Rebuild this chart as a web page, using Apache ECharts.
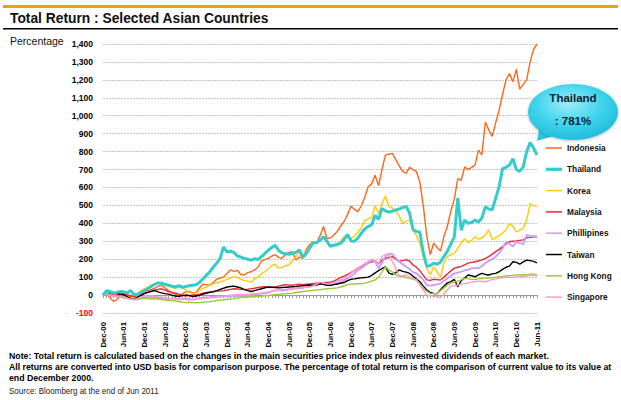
<!DOCTYPE html>
<html><head><meta charset="utf-8">
<script src="https://cdn.jsdelivr.net/npm/echarts@6/dist/echarts.min.js"></script>
<style>html,body{margin:0;padding:0;background:#fff}#c{width:621px;height:400px}</style>
</head><body><div id="c"></div>
<script>
const months = ["Dec-00",
"Jan-01","Feb-01","Mar-01","Apr-01","May-01","Jun-01","Jul-01","Aug-01","Sep-01","Oct-01","Nov-01","Dec-01",
"Jan-02","Feb-02","Mar-02","Apr-02","May-02","Jun-02","Jul-02","Aug-02","Sep-02","Oct-02","Nov-02","Dec-02",
"Jan-03","Feb-03","Mar-03","Apr-03","May-03","Jun-03","Jul-03","Aug-03","Sep-03","Oct-03","Nov-03","Dec-03",
"Jan-04","Feb-04","Mar-04","Apr-04","May-04","Jun-04","Jul-04","Aug-04","Sep-04","Oct-04","Nov-04","Dec-04",
"Jan-05","Feb-05","Mar-05","Apr-05","May-05","Jun-05","Jul-05","Aug-05","Sep-05","Oct-05","Nov-05","Dec-05",
"Jan-06","Feb-06","Mar-06","Apr-06","May-06","Jun-06","Jul-06","Aug-06","Sep-06","Oct-06","Nov-06","Dec-06",
"Jan-07","Feb-07","Mar-07","Apr-07","May-07","Jun-07","Jul-07","Aug-07","Sep-07","Oct-07","Nov-07","Dec-07",
"Jan-08","Feb-08","Mar-08","Apr-08","May-08","Jun-08","Jul-08","Aug-08","Sep-08","Oct-08","Nov-08","Dec-08",
"Jan-09","Feb-09","Mar-09","Apr-09","May-09","Jun-09","Jul-09","Aug-09","Sep-09","Oct-09","Nov-09","Dec-09",
"Jan-10","Feb-10","Mar-10","Apr-10","May-10","Jun-10","Jul-10","Aug-10","Sep-10","Oct-10","Nov-10","Dec-10",
"Jan-11","Feb-11","Mar-11","Apr-11","May-11","Jun-11"];

const indonesia = [0,10,-15,-35,-25,-10,-15,-8,-2,0,5,12,
20,25,30,38,50,55,40,25,12,5,-3,5,
18,20,12,15,40,60,58,55,70,88,95,100,
120,140,132,138,115,112,125,130,140,155,190,198,
205,218,225,210,205,228,238,242,195,212,205,255,
282,298,292,330,382,315,318,335,355,385,410,450,
495,478,465,498,545,605,620,668,610,700,782,785,
790,755,720,690,678,712,700,688,630,495,330,225,
290,265,245,330,385,470,535,650,640,715,700,712,
725,808,782,965,920,885,960,1030,1120,1200,1235,1190,
1258,1148,1175,1200,1300,1370,1400];

const thailand = [0,25,20,12,15,20,18,12,25,5,2,15,
25,35,48,60,68,66,60,55,50,45,52,44,
48,52,55,57,70,90,110,130,155,178,205,268,
240,245,238,218,212,205,200,195,202,198,215,232,
250,265,278,248,235,230,228,232,238,252,212,230,
262,290,293,305,325,300,272,278,282,288,310,338,
302,300,318,345,368,382,392,445,422,482,470,462,
468,475,480,488,495,458,365,355,350,235,160,165,
178,172,185,215,245,285,325,540,362,418,400,405,
418,408,430,492,480,475,540,605,705,712,725,760,
700,690,715,800,850,820,781];

const korea = [0,10,15,12,5,8,3,-5,-8,-3,10,25,
35,45,55,62,68,65,55,50,42,38,48,40,
30,15,8,12,25,38,45,55,62,68,74,80,
88,95,102,98,88,82,78,72,92,100,118,130,
145,165,172,150,155,165,168,190,212,240,205,245,
272,298,290,305,322,300,278,280,285,300,325,318,
315,330,350,375,415,425,432,498,455,510,552,492,
485,470,440,400,412,418,365,330,288,212,150,112,
158,130,102,180,215,225,232,262,290,315,292,305,
325,312,318,335,365,308,320,330,345,365,398,385,
352,362,372,418,510,498,498];

const malaysia = [0,5,8,2,0,5,8,2,-5,-8,-2,5,
12,15,20,28,32,35,28,20,15,10,5,0,
-5,-3,0,2,5,10,15,17,20,22,23,25,
28,32,35,34,32,32,33,35,38,42,45,46,
44,42,45,50,55,58,56,55,58,60,58,60,
62,64,66,68,66,70,72,78,88,98,106,115,
125,138,150,160,170,178,186,190,175,192,205,210,
214,200,188,192,196,190,168,155,135,110,85,82,
88,86,84,100,118,135,150,155,160,168,178,182,
186,190,196,205,214,228,242,255,270,285,297,300,
302,305,308,320,322,325,325];

const phillipines = [0,5,-2,-5,-8,-10,-12,-15,-20,-24,-22,-18,
-15,-12,-10,-14,-18,-15,-20,-22,-18,-20,-24,-22,
-20,-22,-25,-20,-18,-15,-16,-12,-10,-8,-8,-6,
-8,-5,-6,-4,-5,-4,-4,0,3,6,8,10,
14,20,26,27,25,28,32,35,36,38,40,45,
50,56,60,67,62,55,54,60,66,74,81,92,
105,120,139,150,165,180,195,188,149,180,214,230,
229,205,186,172,158,145,128,121,105,84,56,52,
56,60,65,80,93,108,120,125,130,138,142,149,
150,150,162,177,190,200,214,235,260,297,285,270,
297,290,284,335,330,329,329];

const taiwan = [0,22,18,15,10,5,2,-8,-18,-22,-12,-2,
8,15,22,25,18,12,8,5,0,-5,-8,-3,
0,-2,-8,-5,-2,5,10,15,18,25,32,38,
45,48,50,45,40,30,25,20,25,30,35,40,
45,44,42,40,42,44,45,46,48,50,52,54,
56,55,56,63,60,55,55,58,62,66,70,80,
88,90,94,96,98,100,110,124,136,148,158,122,
115,125,140,132,128,121,105,90,74,50,28,15,
9,8,30,50,68,75,87,46,80,95,112,108,
102,112,121,115,112,118,121,130,143,155,161,186,
182,173,185,195,192,188,180];

const hongKong = [0,5,0,-5,-8,-10,-12,-18,-22,-25,-24,-20,
-18,-20,-22,-20,-22,-25,-28,-30,-31,-33,-36,-40,
-42,-40,-42,-43,-42,-40,-38,-37,-34,-30,-28,-26,
-24,-22,-20,-16,-13,-11,-11,-9,-8,-6,-5,-4,
-2,0,3,4,6,7,9,11,14,17,20,22,
24,26,28,30,33,35,36,38,40,45,52,58,
61,62,63,64,66,72,78,84,99,130,158,140,
128,112,108,104,98,93,88,84,62,37,20,9,
8,9,25,40,55,68,72,78,85,93,90,88,
87,90,92,93,95,97,99,102,104,106,108,110,
112,112,113,112,116,118,112];

const singapore = [0,5,-2,-5,-8,-10,-15,-18,-22,-25,-20,-12,
-5,-5,-3,-6,-10,-12,-15,-18,-20,-22,-24,-25,
-24,-26,-25,-22,-20,-18,-16,-15,-13,-12,-10,-6,
-3,-1,0,2,3,2,5,6,7,8,10,14,
18,22,26,27,30,32,34,36,38,40,42,43,
45,52,60,72,66,63,63,70,78,84,90,105,
122,139,150,162,177,188,199,190,173,214,225,232,
186,150,102,108,112,100,92,84,55,28,0,-4,
-6,-10,-13,9,30,50,52,56,60,64,68,72,
75,78,76,74,80,87,90,94,99,100,98,99,
100,102,104,106,110,112,106];

const seriesNames = ["Indonesia","Thailand","Korea","Malaysia","Phillipines","Taiwan","Hong Kong","Singapore"];
const seriesData = [indonesia, thailand, korea, malaysia, phillipines, taiwan, hongKong, singapore];
const seriesColors = ["#FF661A","#33CCCC","#FFCC00","#E8283A","#CC99FF","#000000","#99CC33","#FF99CC"];
const seriesWidths = [1.4, 3, 1.4, 1.4, 1.8, 1.4, 1.4, 1.4];

const thinIcon = 'path://M0,0L16,0L16,1.5L0,1.5Z';
const thickIcon = 'path://M0,0L16,0L16,3.2L0,3.2Z';

const chart = echarts.init(document.getElementById('c'), null, {renderer: 'svg'});
const option = {
  animation: false,
  backgroundColor: '#fff',
  grid: {left: 103, right: 84, top: 44, bottom: 87, outerBoundsMode: 'none'},
  legend: {
    orient: 'vertical', left: 541, top: 139,
    itemWidth: 16, itemHeight: 8, itemGap: 13.3,
    data: seriesNames.map(n => ({name: n, icon: n === 'Thailand' ? thickIcon : thinIcon})),
    textStyle: {fontFamily: 'Arial, sans-serif', fontWeight: 'bold', fontSize: 8.3, color: '#111'}
  },
  xAxis: [{
    type: 'category', data: months, boundaryGap: false,
    axisLine: {show: false, onZero: false}, axisTick: {show: false},
    axisLabel: {interval: 5, rotate: 90, margin: 9, fontFamily: 'Arial, sans-serif', fontWeight: 'bold', fontSize: 7.8, color: '#000'},
    splitLine: {show: false}
  }, {
    type: 'category', data: months, boundaryGap: false, position: 'top',
    axisLine: {show: true, onZero: true, onZeroAxisIndex: 0, lineStyle: {color: '#999', width: 1}},
    axisTick: {show: true, interval: 0, inside: true, length: 3, lineStyle: {color: '#999'}},
    axisLabel: {show: false}, splitLine: {show: false}
  }],
  yAxis: {
    type: 'value', min: -100, max: 1400, interval: 100,
    axisLine: {show: false}, axisTick: {show: false},
    splitLine: {lineStyle: {color: '#C4C4C4', type: [2, 1], width: 1}},
    axisLabel: {
      margin: 10, fontFamily: 'Arial, sans-serif', fontWeight: 'bold', fontSize: 8.5,
      color: v => (v < 0 ? '#FF0000' : '#000'),
      formatter: v => v.toLocaleString('en-US')
    }
  },
  series: seriesNames.map((n, k) => ({
    name: n, type: 'line', data: seriesData[k], xAxisIndex: 0,
    symbol: 'none', smooth: false,
    lineStyle: {color: seriesColors[k], width: seriesWidths[k]},
    itemStyle: {color: seriesColors[k]},
    z: k === 1 ? 3 : 2
  })),
  graphic: [
    {type: 'rect', shape: {x: 3, y: 5, width: 615, height: 3}, style: {fill: '#E6A50A'}},
    {type: 'text', x: 10, y: 18, style: {text: 'Total Return : Selected Asian Countries', font: 'bold 13.8px Arial, sans-serif', fill: '#111', verticalAlign: 'middle'}},
    {type: 'rect', shape: {x: 3, y: 28, width: 615, height: 1.5}, style: {fill: '#000'}},
    {type: 'text', x: 10, y: 41, style: {text: 'Percentage', font: '10.5px Arial, sans-serif', fill: '#111', verticalAlign: 'middle'}},
    {type: 'text', x: 9, y: 356, scaleX: 0.975, style: {text: 'Note: Total return is calculated based on the changes in the main securities price index plus reinvested dividends of each market.', font: 'bold 9px Arial, sans-serif', fill: '#000', verticalAlign: 'middle'}},
    {type: 'text', x: 9, y: 367, scaleX: 0.972, style: {text: 'All returns are converted into USD basis for comparison purpose. The percentage of total return is the comparison of current value to its value at', font: 'bold 9px Arial, sans-serif', fill: '#000', verticalAlign: 'middle'}},
    {type: 'text', x: 9, y: 378, scaleX: 0.972, style: {text: 'end December 2000.', font: 'bold 9px Arial, sans-serif', fill: '#000', verticalAlign: 'middle'}},
    {type: 'text', x: 9, y: 391, scaleX: 0.89, style: {text: 'Source: Bloomberg at the end of Jun 2011', font: '9px Arial, sans-serif', fill: '#222', verticalAlign: 'middle'}},
    {type: 'polygon', z: 100, shape: {points: [[537, 141], [540, 123], [557, 135]]}, style: {fill: '#2EC6E2'}},
    {type: 'ellipse', z: 101, shape: {cx: 573, cy: 112, rx: 45, ry: 28},
      style: {fill: {type: 'radial', x: 0.45, y: 0.35, r: 0.7, colorStops: [
        {offset: 0, color: '#9AEDF8'}, {offset: 0.55, color: '#3DD2EC'}, {offset: 1, color: '#1DB8D8'}]},
        shadowBlur: 3, shadowColor: 'rgba(0,0,0,0.25)', shadowOffsetY: 1}},
    {type: 'text', z: 102, x: 573, y: 98, style: {text: 'Thailand', font: 'bold 11.5px Arial, sans-serif', fill: '#0B2230', align: 'center', verticalAlign: 'middle'}},
    {type: 'text', z: 102, x: 573, y: 121, style: {text: ': 781%', font: 'bold 11.5px Arial, sans-serif', fill: '#0B2230', align: 'center', verticalAlign: 'middle'}}
  ]
};
chart.setOption(option);
</script></body></html>
